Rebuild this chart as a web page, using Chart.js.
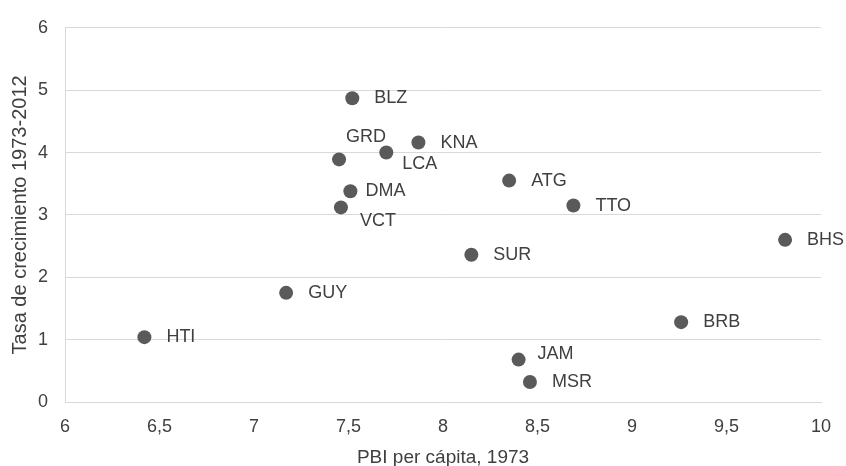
<!DOCTYPE html>
<html lang="es">
<head>
<meta charset="utf-8">
<title>Tasa de crecimiento vs PBI per cápita</title>
<script src="https://cdn.jsdelivr.net/npm/chart.js@4.4.1/dist/chart.umd.min.js"></script>
<style>
    html, body { margin: 0; padding: 0; background: #ffffff; }
    #grafico { display: block; }
</style>
</head>
<body>
<canvas id="grafico" width="846" height="466"></canvas>
<script>
// Datos
const paises      = ['HTI', 'GUY', 'VCT', 'DMA', 'GRD', 'BLZ', 'LCA', 'KNA', 'SUR', 'ATG', 'TTO', 'JAM', 'MSR', 'BRB', 'BHS'];
const pbi         = [6.42, 7.17, 7.46, 7.51, 7.45, 7.52, 7.70, 7.87, 8.15, 8.35, 8.69, 8.40, 8.46, 9.26, 9.81];
const crecimiento = [1.04, 1.75, 3.12, 3.38, 3.89, 4.87, 4.00, 4.16, 2.36, 3.55, 3.15, 0.68, 0.32, 1.28, 2.60];
const ticksX      = [6, 6.5, 7, 7.5, 8, 8.5, 9, 9.5, 10];
const ticksY      = [0, 1, 2, 3, 4, 5, 6];

const FUENTE = '"Liberation Sans", Arial, sans-serif';
const COLOR_TEXTO = '#404040';
const COLOR_LINEA = '#d9d9d9';

// Desplazamiento de cada etiqueta respecto a su punto (por defecto a la derecha)
const desplazamiento = {
    GRD: [7, -22],
    LCA: [16, 11],
    VCT: [19, 14],
    JAM: [19, -6],
    DMA: [15, 0]
};

// Plugin: escribe el código del país junto a cada punto
const etiquetasPaises = {
    id: 'etiquetasPaises',
    afterDatasetsDraw(chart) {
        const ctx = chart.ctx;
        const meta = chart.getDatasetMeta(0);
        ctx.save();
        ctx.font = '18px ' + FUENTE;
        ctx.fillStyle = COLOR_TEXTO;
        ctx.textAlign = 'left';
        ctx.textBaseline = 'middle';
        meta.data.forEach((punto, i) => {
            const [dx, dy] = desplazamiento[paises[i]] || [22, 0];
            ctx.fillText(paises[i], punto.x + dx, punto.y + dy);
        });
        ctx.restore();
    }
};

const formatoComa = v => String(v).replace('.', ',');

new Chart(document.getElementById('grafico'), {
    type: 'scatter',
    data: {
        datasets: [{
            data: pbi.map((x, i) => ({ x: x, y: crecimiento[i] })),
            backgroundColor: '#5a5a5a',
            borderWidth: 0,
            pointRadius: 7,
            pointHoverRadius: 7
        }]
    },
    options: {
        responsive: false,
        animation: false,
        events: [],
        layout: { padding: { top: 24, right: 25, left: 0, bottom: 0 } },
        plugins: {
            legend: { display: false },
            tooltip: { enabled: false }
        },
        scales: {
            x: {
                type: 'linear',
                position: 'bottom',
                min: 6,
                max: 10,
                afterBuildTicks: s => { s.ticks = ticksX.map(v => ({ value: v })); },
                afterFit: s => { s.height = 64; },
                ticks: {
                    color: COLOR_TEXTO,
                    font: { family: FUENTE, size: 18 },
                    padding: 14,
                    maxRotation: 0,
                    callback: formatoComa
                },
                grid: { color: 'rgba(0,0,0,0)', drawTicks: false },
                border: { color: COLOR_LINEA, width: 1 },
                title: {
                    display: true,
                    text: 'PBI per cápita, 1973',
                    color: COLOR_TEXTO,
                    font: { family: FUENTE, size: 19, lineHeight: 0.85 },
                    padding: { top: 0, bottom: 0 }
                }
            },
            y: {
                type: 'linear',
                min: 0,
                max: 6,
                afterBuildTicks: s => { s.ticks = ticksY.map(v => ({ value: v })); },
                afterFit: s => { s.width = 65; },
                ticks: {
                    color: COLOR_TEXTO,
                    font: { family: FUENTE, size: 18 },
                    padding: 17,
                    callback: formatoComa
                },
                grid: { color: COLOR_LINEA, lineWidth: 1, drawTicks: false },
                border: { color: COLOR_LINEA, width: 1 },
                title: {
                    display: true,
                    text: 'Tasa de crecimiento 1973-2012',
                    color: COLOR_TEXTO,
                    font: { family: FUENTE, size: 20 },
                    padding: { top: 8, bottom: 0 }
                }
            }
        }
    },
    plugins: [etiquetasPaises]
});
</script>
</body>
</html>
